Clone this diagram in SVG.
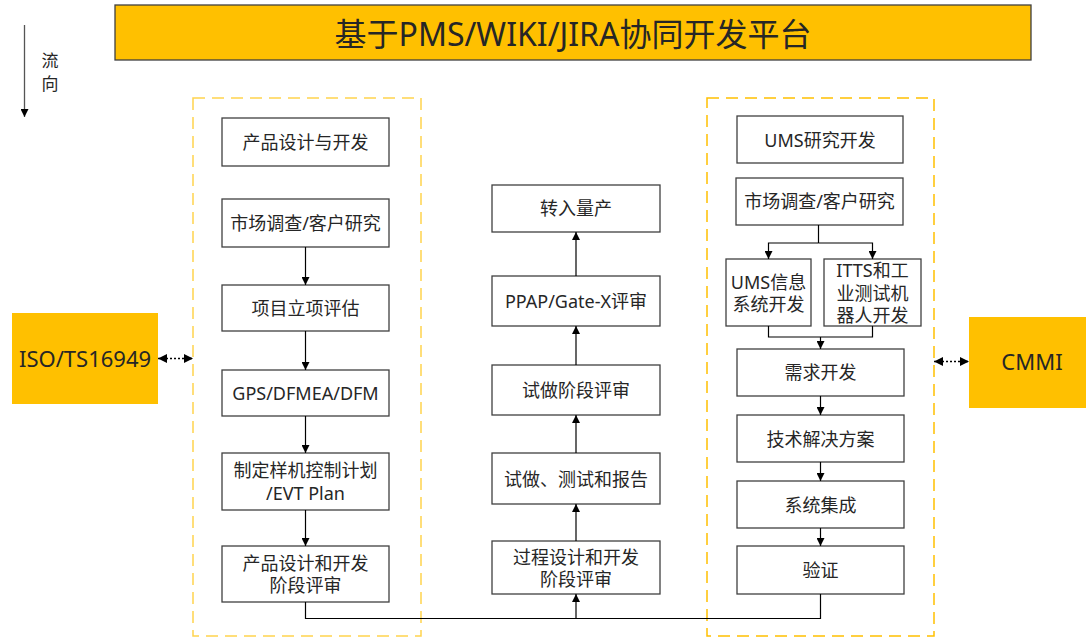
<svg xmlns="http://www.w3.org/2000/svg" width="1086" height="637" viewBox="0 0 1086 637">
<defs>
<marker id="ah" viewBox="0 0 10 10" refX="10" refY="5" markerWidth="8" markerHeight="8" markerUnits="userSpaceOnUse" orient="auto-start-reverse">
<path d="M0,0 L10,5 L0,10 z" fill="#000"/>
</marker>
<marker id="ah2" viewBox="0 0 10 10" refX="10" refY="5" markerWidth="10" markerHeight="9" markerUnits="userSpaceOnUse" orient="auto-start-reverse">
<path d="M0,0 L10,5 L0,10 z" fill="#000"/>
</marker>
<style>
text{font-family:"Noto Sans","Noto Sans CJK SC",sans-serif;fill:#262626;text-anchor:middle;dominant-baseline:central}
.box{fill:#fff;stroke:#404040;stroke-width:1.3}
.lbl{font-size:18px}
.std{fill:#FFC000}
.zone{fill:none;stroke:#FFC000;stroke-width:1.5;stroke-dasharray:12 7}
.ln{fill:none;stroke:#000;stroke-width:1.2}
.arr{fill:none;stroke:#000;stroke-width:1.2;marker-end:url(#ah)}
.dot{fill:none;stroke:#000;stroke-width:1.3;stroke-dasharray:2 2;marker-start:url(#ah2);marker-end:url(#ah2)}
</style>
</defs>

<g id="title">
<rect x="115" y="5" width="916" height="55" fill="#FFC000" stroke="#404040" stroke-width="1.3"/>
<text x="573" y="33" style="font-size:32px" fill="#1a1a1a">基于PMS/WIKI/JIRA协同开发平台</text>
</g>

<g id="flow">
<line x1="24.5" y1="25" x2="24.5" y2="117" stroke="#555" stroke-width="1.3" marker-end="url(#ah)"/>
<text x="50" y="60" style="font-size:17px">流</text>
<text x="50" y="83" style="font-size:17px">向</text>
</g>

<g id="zone-left"><rect class="zone" x="193" y="98" width="228" height="538" stroke-opacity="0.7"/></g>
<g id="zone-right"><rect class="zone" x="707" y="98" width="227" height="538"/></g>

<g id="iso">
<rect class="std" x="12" y="313" width="146" height="91"/>
<text x="85" y="358" style="font-size:22px" fill="#111">ISO/TS16949</text>
</g>
<g id="cmmi">
<rect class="std" x="969" y="317" width="117" height="91"/>
<text x="1032" y="361" style="font-size:22px" fill="#111">CMMI</text>
</g>

<!-- left column -->
<g id="l1"><rect class="box" x="222" y="118" width="167" height="48"/><text class="lbl" x="305.5" y="142">产品设计与开发</text></g>
<g id="l2"><rect class="box" x="222" y="199" width="167" height="48"/><text class="lbl" x="305.5" y="223">市场调查/客户研究</text></g>
<g id="l3"><rect class="box" x="222" y="285" width="167" height="46"/><text class="lbl" x="305.5" y="308">项目立项评估</text></g>
<g id="l4"><rect class="box" x="222" y="370" width="167" height="46"/><text class="lbl" x="305.5" y="393">GPS/DFMEA/DFM</text></g>
<g id="l5"><rect class="box" x="222" y="453" width="167" height="57"/><text class="lbl" x="305.5" y="470">制定样机控制计划</text><text class="lbl" x="305.5" y="493">/EVT Plan</text></g>
<g id="l6"><rect class="box" x="222" y="546" width="167" height="56"/><text class="lbl" x="305.5" y="563">产品设计和开发</text><text class="lbl" x="305.5" y="585">阶段评审</text></g>

<!-- middle column -->
<g id="m1"><rect class="box" x="492" y="185" width="168" height="47"/><text class="lbl" x="576" y="208">转入量产</text></g>
<g id="m2"><rect class="box" x="492" y="276" width="168" height="50"/><text class="lbl" x="576" y="301">PPAP/Gate-X评审</text></g>
<g id="m3"><rect class="box" x="492" y="365" width="168" height="50"/><text class="lbl" x="576" y="390">试做阶段评审</text></g>
<g id="m4"><rect class="box" x="492" y="453" width="168" height="51"/><text class="lbl" x="576" y="479">试做、测试和报告</text></g>
<g id="m5"><rect class="box" x="492" y="541" width="168" height="53"/><text class="lbl" x="576" y="557">过程设计和开发</text><text class="lbl" x="576" y="579">阶段评审</text></g>

<!-- right column -->
<g id="r1"><rect class="box" x="737" y="116" width="166" height="47"/><text class="lbl" x="820" y="140">UMS研究开发</text></g>
<g id="r2"><rect class="box" x="736" y="178" width="167" height="47"/><text class="lbl" x="819.5" y="201">市场调查/客户研究</text></g>
<g id="r3"><rect class="box" x="726" y="259" width="85" height="67"/><text class="lbl" x="768.5" y="282">UMS信息</text><text class="lbl" x="768.5" y="304">系统开发</text></g>
<g id="r4"><rect class="box" x="824" y="259" width="97" height="67"/><text class="lbl" x="872.5" y="270">ITTS和工</text><text class="lbl" x="872.5" y="293">业测试机</text><text class="lbl" x="872.5" y="315">器人开发</text></g>
<g id="r5"><rect class="box" x="737" y="349" width="167" height="47"/><text class="lbl" x="820.5" y="372">需求开发</text></g>
<g id="r6"><rect class="box" x="737" y="415" width="167" height="47"/><text class="lbl" x="820.5" y="439">技术解决方案</text></g>
<g id="r7"><rect class="box" x="737" y="481" width="167" height="47"/><text class="lbl" x="820.5" y="505">系统集成</text></g>
<g id="r8"><rect class="box" x="737" y="546" width="167" height="48"/><text class="lbl" x="820.5" y="570">验证</text></g>

<g id="connectors">
<line class="arr" x1="305.5" y1="247" x2="305.5" y2="285"/>
<line class="arr" x1="305.5" y1="331" x2="305.5" y2="370"/>
<line class="arr" x1="305.5" y1="416" x2="305.5" y2="453"/>
<line class="arr" x1="305.5" y1="510" x2="305.5" y2="546"/>
<polyline class="ln" points="305.5,602 305.5,618.5 576,618.5"/>
<polyline class="arr" points="820.5,594 820.5,618.5 576,618.5 576,594"/>
<line class="arr" x1="576" y1="541" x2="576" y2="504"/>
<line class="arr" x1="576" y1="453" x2="576" y2="415"/>
<line class="arr" x1="576" y1="365" x2="576" y2="326"/>
<line class="arr" x1="576" y1="276" x2="576" y2="232"/>
<polyline class="ln" points="818.5,225 818.5,243"/>
<polyline class="arr" points="818.5,243 768.5,243 768.5,259"/>
<polyline class="arr" points="818.5,243 872.5,243 872.5,259"/>
<polyline class="ln" points="768.5,326 768.5,337 872.5,337 872.5,326"/>
<line class="arr" x1="820.5" y1="337" x2="820.5" y2="349"/>
<line class="arr" x1="820.5" y1="396" x2="820.5" y2="415"/>
<line class="arr" x1="820.5" y1="462" x2="820.5" y2="481"/>
<line class="arr" x1="820.5" y1="528" x2="820.5" y2="546"/>
<line class="dot" x1="158" y1="358.5" x2="193" y2="358.5"/>
<line class="dot" x1="934" y1="361.5" x2="969" y2="361.5"/>
</g>
</svg>
